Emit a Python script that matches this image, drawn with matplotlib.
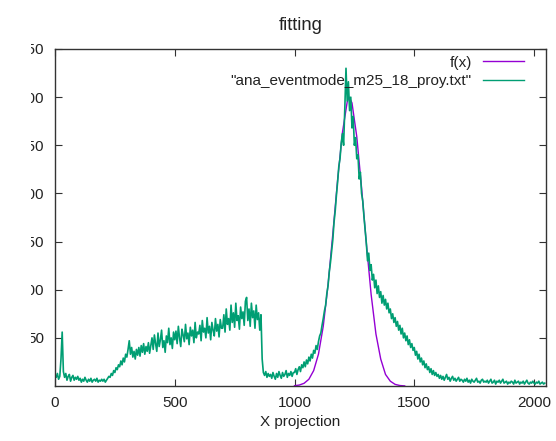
"""Recreate the gnuplot 'fitting' chart: X projection histogram with Gaussian fit."""

import matplotlib
matplotlib.use("Agg")
import matplotlib.pyplot as plt
from matplotlib.patches import Rectangle
import numpy as np

# histogram, one value every 5 channels (0 .. 2045)
CHANNEL_STEP = 5
counts = [
    11, 9, 13, 7, 10, 28, 56, 15, 9, 13, 6, 10, 12, 5, 9, 11, 6, 9, 7, 10,
    6, 8, 4, 7, 5, 9, 6, 4, 7, 5, 8, 4, 6, 7, 5, 8, 4, 6, 5, 7,
    5, 7, 4, 6, 8, 10, 9, 13, 11, 16, 14, 19, 17, 22, 20, 26, 22, 29, 25, 33,
    30, 38, 47, 33, 40, 30, 36, 28, 38, 32, 40, 31, 42, 35, 44, 33, 41, 36, 45, 34,
    42, 50, 38, 53, 44, 36, 55, 41, 48, 58, 40, 47, 35, 52, 45, 60, 43, 50, 39, 56,
    48, 57, 44, 62, 50, 41, 59, 53, 46, 64, 49, 55, 43, 61, 52, 58, 45, 66, 50, 56,
    54, 63, 47, 68, 56, 60, 50, 71, 55, 62, 48, 66, 58, 52, 70, 57, 64, 51, 69, 60,
    60, 74, 56, 80, 64, 70, 58, 84, 66, 76, 61, 86, 68, 73, 59, 82, 70, 77, 63, 88,
    92, 68, 80, 62, 86, 71, 78, 60, 84, 69, 76, 58, 74, 28, 14, 11, 15, 9, 13, 10,
    12, 8, 14, 10, 7, 13, 9, 15, 11, 8, 14, 10, 12, 16, 9, 13, 11, 15, 10, 14,
    14, 18, 12, 17, 20, 15, 22, 19, 25, 20, 27, 23, 30, 26, 33, 29, 37, 34, 42, 38,
    46, 52, 55, 63, 70, 78, 84, 96, 104, 118, 128, 140, 152, 170, 182, 198, 212, 228, 236, 252,
    262, 250, 288, 330, 296, 316, 286, 300, 268, 280, 250, 258, 236, 240, 215, 222, 200, 192, 176, 162,
    148, 130, 138, 120, 126, 110, 116, 102, 110, 96, 104, 92, 98, 86, 94, 84, 90, 80, 86, 76,
    80, 70, 75, 66, 71, 62, 67, 58, 63, 54, 60, 50, 55, 47, 52, 43, 48, 40, 44, 37,
    40, 32, 36, 28, 33, 25, 29, 22, 26, 19, 23, 17, 20, 14, 18, 12, 16, 11, 14, 10,
    12, 8, 11, 7, 10, 6, 9, 12, 7, 9, 5, 8, 10, 6, 8, 5, 7, 9, 5, 7,
    6, 4, 7, 5, 8, 4, 6, 3, 7, 5, 4, 6, 8, 4, 5, 3, 6, 7, 4, 5,
    4, 6, 3, 5, 7, 3, 4, 6, 2, 5, 4, 6, 3, 5, 7, 3, 4, 5, 2, 4,
    3, 5, 4, 2, 6, 3, 4, 5, 2, 4, 3, 5, 2, 4, 6, 3, 2, 4, 3, 5,
    3, 2, 4, 3, 5, 2, 3, 4, 2, 3,
]

# fitted curve f(x)
fit_x = [1000, 1020, 1040, 1060, 1080, 1100, 1120, 1140, 1160, 1180, 1200, 1220,
         1228, 1240, 1260, 1280, 1300, 1320, 1340, 1360, 1380, 1400, 1420, 1440, 1460]
fit_y = [0.3, 1.0, 2.8, 7.0, 16, 33, 62, 105, 158, 214, 263, 295,
         300, 294, 259, 206, 148, 95, 54, 28, 12, 5, 1.7, 0.5, 0.1]

x_ticks = [0, 500, 1000, 1500, 2000]
y_ticks = [50, 100, 150, 200, 250, 300, 350]

DATA_LABEL = '"ana_eventmode_m25_18_proy.txt"'

W, H = 556, 441


def main():
    plt.rcParams["font.family"] = ["Liberation Sans", "DejaVu Sans"]
    plt.rcParams["font.size"] = 11

    fig = plt.figure(figsize=(W / 100, H / 100), dpi=100)
    ax = fig.add_axes([55 / W, 1 - 386 / H, (545.5 - 55) / W, (386 - 49) / H])

    channels = np.arange(len(counts)) * CHANNEL_STEP
    ax.plot(fit_x, fit_y, color="#9400D3", linewidth=1.0, label="f(x)")
    ax.plot(channels, counts, color="#009E73", linewidth=1.2, label=DATA_LABEL)

    ax.set_xlim(0, 2048)
    ax.set_ylim(0, 350)
    ax.set_xticks(x_ticks)
    ax.set_yticks(y_ticks)
    ax.tick_params(direction="in", length=5, width=0.8, top=True, right=True,
                   color="#333333", labelcolor="#222222", pad=7)
    ax.tick_params(axis="y", pad=8)
    for s in ax.spines.values():
        s.set_color("#333333")
        s.set_linewidth(1.0)

    ax.set_title("fitting", pad=14, color="#222222")
    ax.set_xlabel("X projection", labelpad=4, color="#222222")

    leg = ax.legend(loc="upper right", bbox_to_anchor=(1 - 11 / 490, 1 + 4 / 337),
                    frameon=False, markerfirst=False,
                    handlelength=2.7, handletextpad=0.7, labelspacing=0.3,
                    borderaxespad=0.3, borderpad=0.4)
    for line in leg.get_lines():
        line.set_linewidth(1.0)
    for t in leg.get_texts():
        t.set_color("#222222")

    # the reference screenshot is cropped on the left, hiding part of the y labels
    fig.patches.append(Rectangle((0, 0), 30.5 / W, 1, transform=fig.transFigure,
                                 facecolor="white", edgecolor="none", zorder=10))

    fig.savefig("out.png", dpi=100)


if __name__ == "__main__":
    main()
